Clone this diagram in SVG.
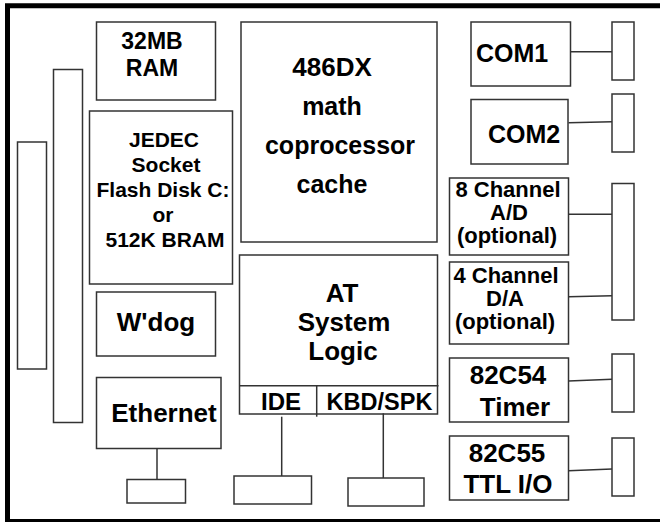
<svg xmlns="http://www.w3.org/2000/svg" width="660" height="522" viewBox="0 0 660 522">
<style>
.box{fill:#fff;stroke:#333;stroke-width:1.5}
.ln{stroke:#333;stroke-width:1.5;fill:none}
text{font-family:"Liberation Sans",Arial,Helvetica,sans-serif;font-weight:bold;fill:#000;text-anchor:middle}
.l{text-anchor:start}
</style>
<rect x="0" y="0" width="660" height="522" fill="#fff"/>
<g id="frame"><path d="M662,5.7 H7.5 V521.5 H662" fill="none" stroke="#000" stroke-width="5"/></g>
<g id="slot1"><rect class="box" x="17.5" y="142" width="29" height="227"/></g>
<g id="slot2"><rect class="box" x="53.5" y="69.5" width="29" height="353"/></g>
<g id="ram"><rect class="box" x="96.5" y="22" width="119" height="78"/>
<text x="152" y="49" font-size="23">32MB</text><text x="152" y="76" font-size="23">RAM</text></g>
<g id="jedec"><rect class="box" x="89.5" y="111" width="143" height="173"/>
<text x="164" y="147" font-size="21">JEDEC</text><text x="166" y="172" font-size="21">Socket</text><text x="163" y="197" font-size="21">Flash Disk C:</text><text x="163" y="222" font-size="21">or</text><text x="165" y="247" font-size="21">512K BRAM</text></g>
<g id="cpu"><rect class="box" x="241" y="22" width="196" height="220"/>
<text x="332" y="76" font-size="26">486DX</text><text x="332" y="115" font-size="25">math</text><text x="340" y="154" font-size="25">coprocessor</text><text x="332" y="193" font-size="25">cache</text></g>
<g id="wdog"><rect class="box" x="96.5" y="292" width="119" height="64"/>
<text x="156" y="331" font-size="26">W'dog</text></g>
<g id="ethernet"><rect class="box" x="96.5" y="377.5" width="124.5" height="71"/>
<text x="164" y="422" font-size="26">Ethernet</text></g>
<g id="eth-port"><rect class="box" x="127" y="479.5" width="58.5" height="23.5"/></g>
<g id="at"><rect class="box" x="239.5" y="255" width="198" height="159"/>
<text x="342" y="302" font-size="26">AT</text><text x="344" y="331" font-size="26">System</text><text x="343" y="360" font-size="26">Logic</text>
<line class="ln" x1="239.5" y1="385.7" x2="438.5" y2="385.7"/><line class="ln" x1="316.7" y1="385.7" x2="316.7" y2="416.7"/>
<text x="281" y="410" font-size="24">IDE</text><text x="379.5" y="410" font-size="23.5">KBD/SPK</text></g>
<g id="ide-port"><rect class="box" x="234" y="476" width="77.5" height="28"/></g>
<g id="kbd-port"><rect class="box" x="348" y="478" width="76" height="28"/></g>
<g id="com1"><rect class="box" x="471" y="22" width="99.5" height="64"/>
<text class="l" x="476" y="62" font-size="25">COM1</text></g>
<g id="com1-port"><rect class="box" x="612" y="22" width="22" height="58"/></g>
<g id="com2"><rect class="box" x="471" y="99.5" width="97" height="64.5"/>
<text x="524" y="143" font-size="25">COM2</text></g>
<g id="com2-port"><rect class="box" x="612" y="94" width="22" height="58"/></g>
<g id="ad"><rect class="box" x="449.5" y="178" width="119" height="77"/>
<text x="508" y="197" font-size="22">8 Channel</text><text x="509" y="220" font-size="22">A/D</text><text x="507" y="243" font-size="22">(optional)</text></g>
<g id="ad-port"><rect class="box" x="612" y="183.5" width="22" height="136.5"/></g>
<g id="da"><rect class="box" x="449.5" y="262" width="119" height="82"/>
<text x="506" y="283" font-size="22">4 Channel</text><text x="505" y="306" font-size="22">D/A</text><text x="505" y="329" font-size="22">(optional)</text></g>
<g id="timer"><rect class="box" x="449.5" y="358" width="119" height="64"/>
<text x="508" y="384" font-size="26">82C54</text><text x="515" y="416" font-size="26">Timer</text></g>
<g id="timer-port"><rect class="box" x="612" y="354" width="22" height="58"/></g>
<g id="ttl"><rect class="box" x="449.5" y="436" width="119" height="64"/>
<text x="507" y="462" font-size="26">82C55</text><text x="508" y="493" font-size="26">TTL I/O</text></g>
<g id="ttl-port"><rect class="box" x="612" y="438" width="22" height="58"/></g>
<g id="connectors">
<line class="ln" x1="570.5" y1="51.7" x2="612" y2="51.7"/>
<line class="ln" x1="568.5" y1="122.7" x2="612" y2="121.7"/>
<line class="ln" x1="568.5" y1="214.3" x2="612" y2="214.3"/>
<line class="ln" x1="568.5" y1="296.7" x2="612" y2="295.7"/>
<line class="ln" x1="568.5" y1="381" x2="612" y2="379.3"/>
<line class="ln" x1="568.5" y1="470.7" x2="612" y2="469"/>
<line class="ln" x1="157" y1="448.5" x2="157" y2="479.5"/>
<line class="ln" x1="281.7" y1="416.7" x2="281.7" y2="476"/>
<line class="ln" x1="383.3" y1="413.3" x2="383.3" y2="478"/>
</g>
</svg>
